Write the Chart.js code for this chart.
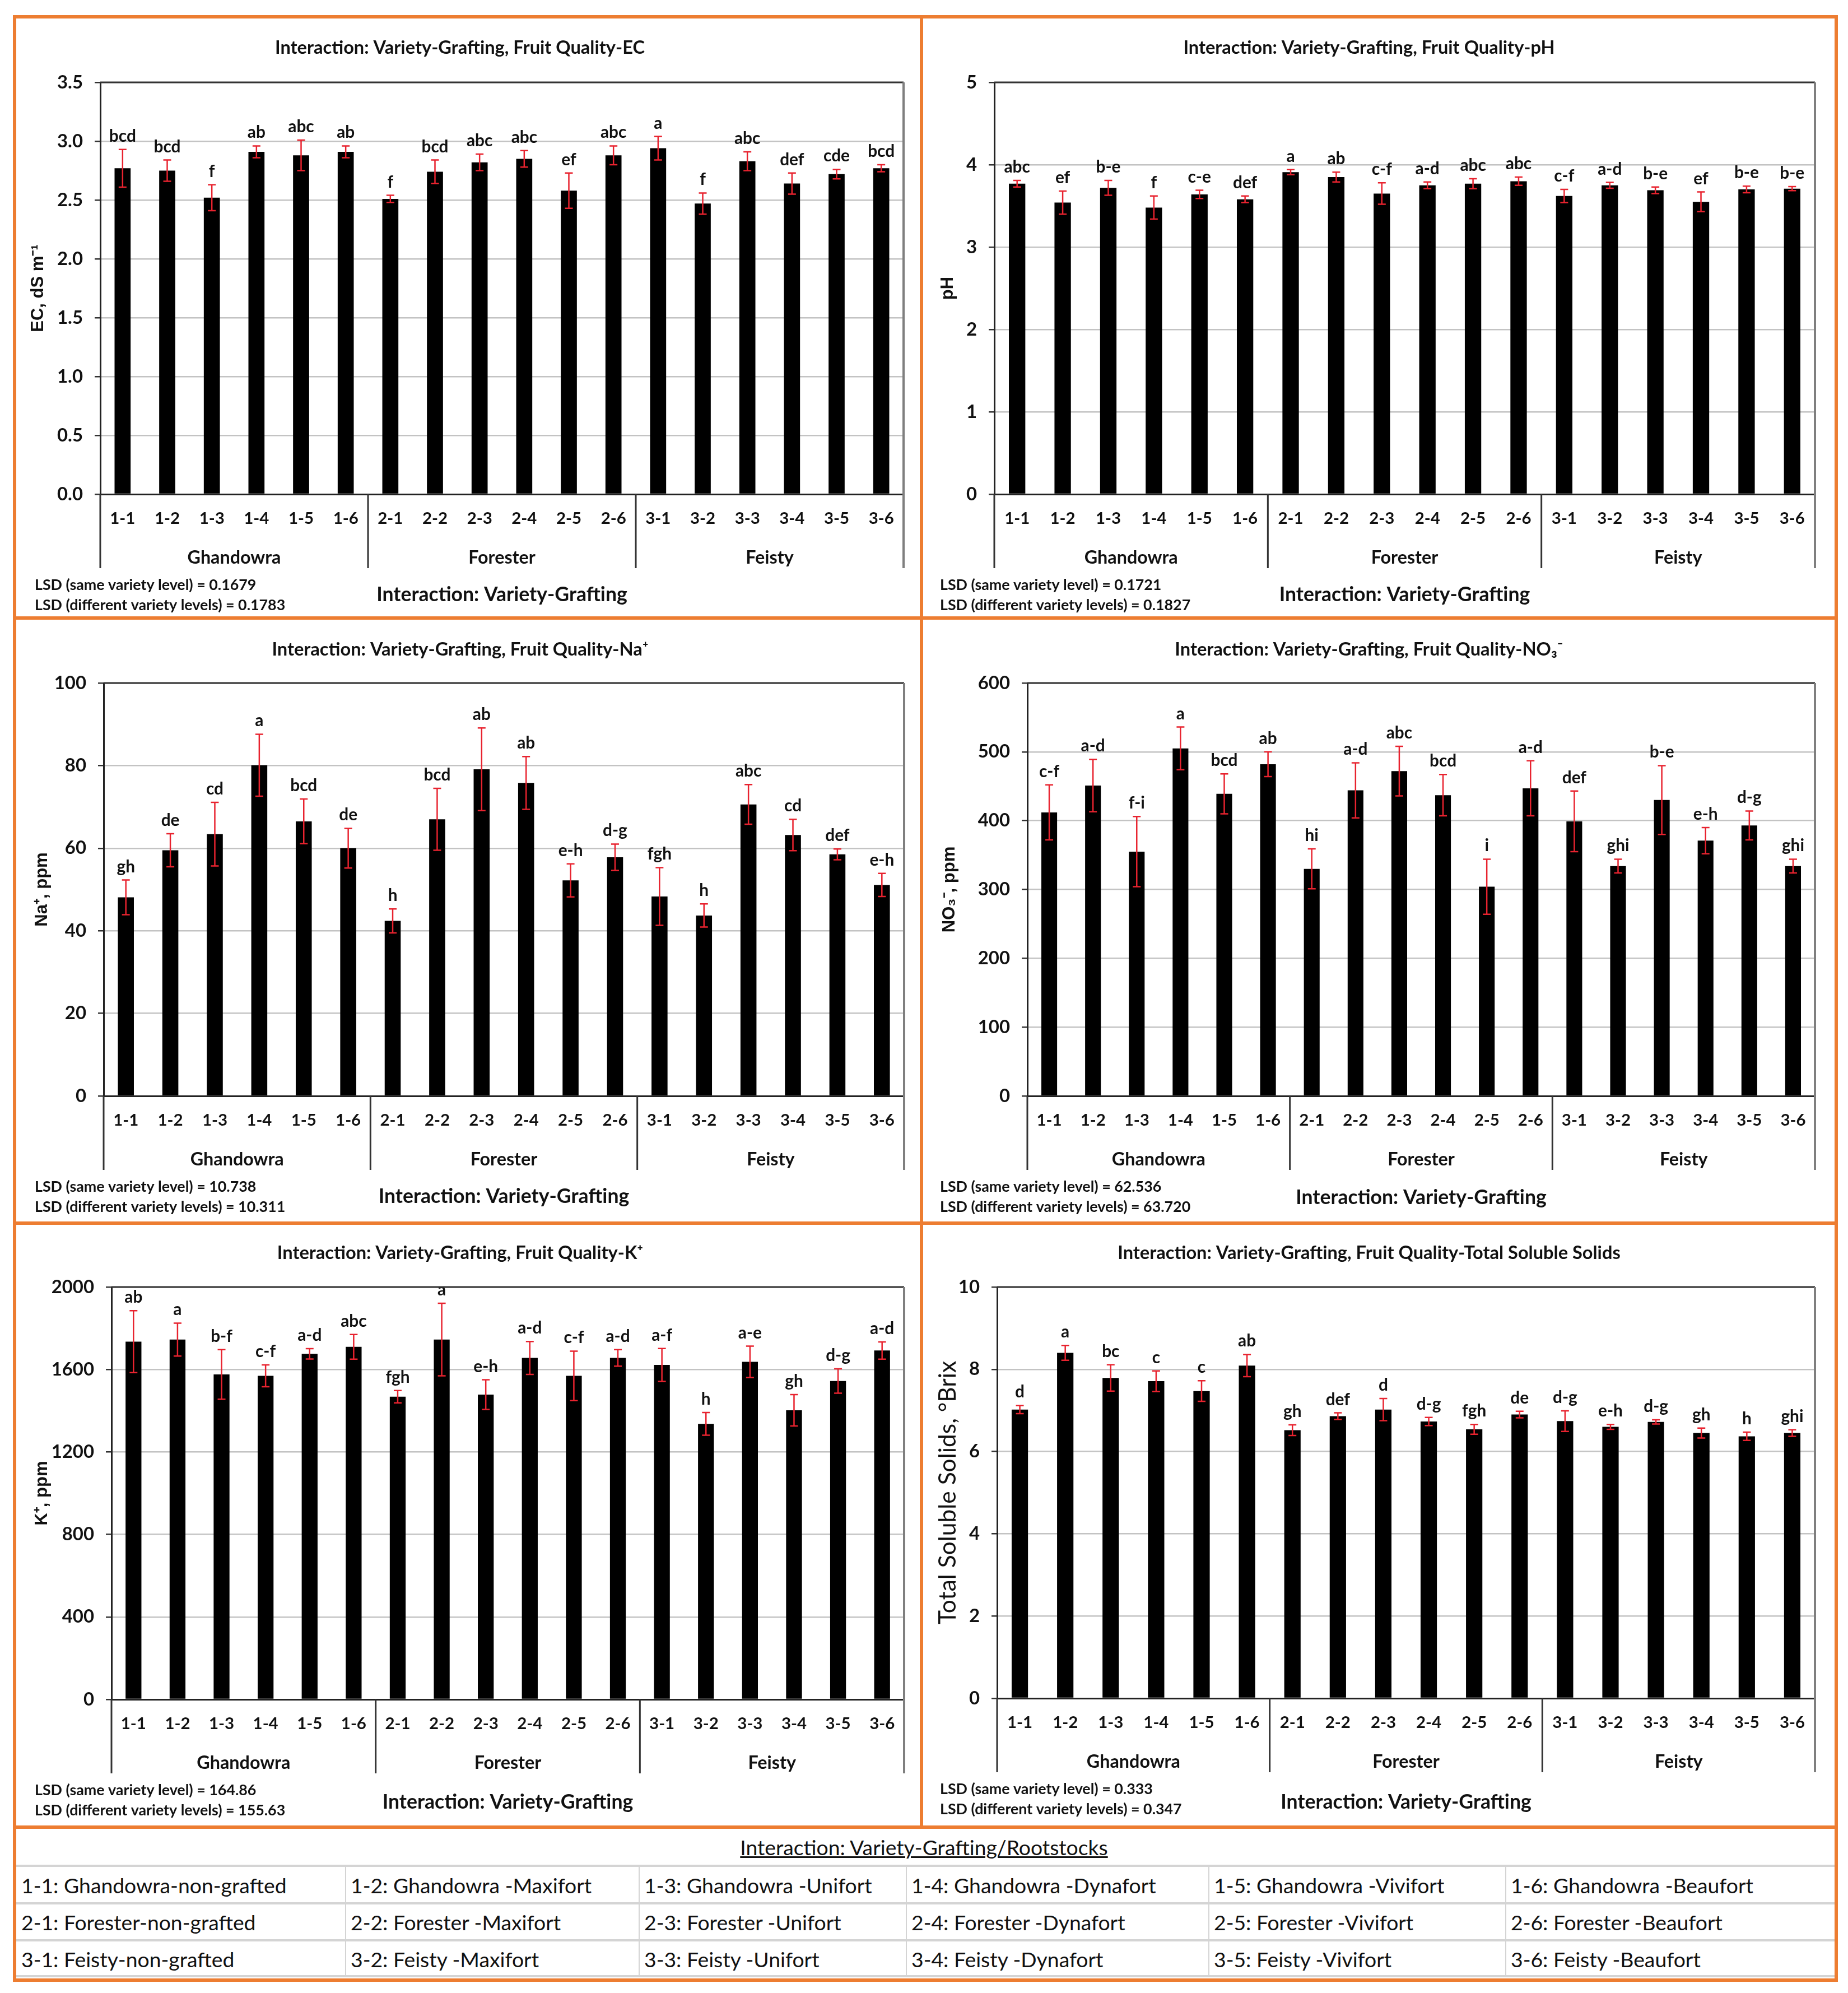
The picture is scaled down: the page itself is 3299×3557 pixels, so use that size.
<!DOCTYPE html>
<html>
<head>
<meta charset="utf-8">
<script src="https://cdn.jsdelivr.net/npm/chart.js@4.4.1/dist/chart.umd.min.js"></script>
<style>
html,body{margin:0;padding:0;background:#fff;}
body{width:3299px;height:3557px;position:relative;overflow:hidden;font-family:Lato,sans-serif;}
.cell{position:absolute;}
.bd{position:absolute;background:#ED7D31;}
.ln{position:absolute;background:#d4d4d4;}
.lt{position:absolute;white-space:nowrap;color:#111;font-family:Lato,sans-serif;}
</style>
</head>
<body>
<script>
// ---------------- DATA ----------------
const categories = ['1-1','1-2','1-3','1-4','1-5','1-6','2-1','2-2','2-3','2-4','2-5','2-6','3-1','3-2','3-3','3-4','3-5','3-6'];
const varieties = ['Ghandowra','Forester','Feisty'];
const rootstocks = ['-non-grafted',' -Maxifort',' -Unifort',' -Dynafort',' -Vivifort',' -Beaufort'];
const xAxisTitle = 'Interaction: Variety-Grafting';
const legendTitle = 'Interaction: Variety-Grafting/Rootstocks';

const ecValues  = [2.77,2.75,2.52,2.91,2.88,2.91, 2.51,2.74,2.82,2.85,2.58,2.88, 2.94,2.47,2.83,2.64,2.72,2.77];
const ecErrors  = [0.16,0.09,0.11,0.05,0.13,0.05, 0.03,0.10,0.07,0.07,0.15,0.08, 0.10,0.09,0.08,0.09,0.04,0.03];
const ecLetters = ['bcd','bcd','f','ab','abc','ab','f','bcd','abc','abc','ef','abc','a','f','abc','def','cde','bcd'];
const ecTicks   = [0,0.5,1,1.5,2,2.5,3,3.5];
const ecLSD     = ['LSD (same variety level) = 0.1679','LSD (different variety levels) = 0.1783'];

const phValues  = [3.77,3.54,3.72,3.48,3.64,3.58, 3.91,3.85,3.65,3.75,3.77,3.80, 3.62,3.75,3.69,3.55,3.70,3.71];
const phErrors  = [0.04,0.14,0.09,0.14,0.05,0.04, 0.03,0.06,0.13,0.04,0.06,0.05, 0.08,0.035,0.04,0.12,0.04,0.025];
const phLetters = ['abc','ef','b-e','f','c-e','def','a','ab','c-f','a-d','abc','abc','c-f','a-d','b-e','ef','b-e','b-e'];
const phTicks   = [0,1,2,3,4,5];
const phLSD     = ['LSD (same variety level) = 0.1721','LSD (different variety levels) = 0.1827'];

const naValues  = [48.1,59.5,63.4,80.1,66.5,60.0, 42.4,67.0,79.1,75.8,52.2,57.8, 48.3,43.7,70.6,63.2,58.5,51.1];
const naErrors  = [4.2,4.0,7.7,7.5,5.4,4.8, 2.9,7.5,10.0,6.4,4.0,3.2, 7.0,2.8,4.8,3.8,1.3,2.8];
const naLetters = ['gh','de','cd','a','bcd','de','h','bcd','ab','ab','e-h','d-g','fgh','h','abc','cd','def','e-h'];
const naTicks   = [0,20,40,60,80,100];
const naLSD     = ['LSD (same variety level) = 10.738','LSD (different variety levels) = 10.311'];

const no3Values  = [412,451,355,505,439,482, 330,444,472,437,304,447, 399,334,430,371,393,334];
const no3Errors  = [40,38,51,31,29,18, 29,40,36,30,40,40, 44,10,50,19,21,10];
const no3Letters = ['c-f','a-d','f-i','a','bcd','ab','hi','a-d','abc','bcd','i','a-d','def','ghi','b-e','e-h','d-g','ghi'];
const no3Ticks   = [0,100,200,300,400,500,600];
const no3LSD     = ['LSD (same variety level) = 62.536','LSD (different variety levels) = 63.720'];

const kValues  = [1735,1745,1576,1569,1676,1710, 1468,1745,1478,1656,1569,1656, 1622,1336,1637,1402,1544,1692];
const kErrors  = [150,80,120,53,25,60, 30,176,72,80,120,40, 80,55,76,76,59,42];
const kLetters = ['ab','a','b-f','c-f','a-d','abc','fgh','a','e-h','a-d','c-f','a-d','a-f','h','a-e','gh','d-g','a-d'];
const kTicks   = [0,400,800,1200,1600,2000];
const kLSD     = ['LSD (same variety level) = 164.86','LSD (different variety levels) = 155.63'];

const tssValues  = [7.02,8.40,7.79,7.71,7.47,8.09, 6.52,6.86,7.02,6.73,6.54,6.90, 6.74,6.60,6.72,6.45,6.37,6.45];
const tssErrors  = [0.10,0.18,0.32,0.25,0.25,0.27, 0.13,0.08,0.27,0.10,0.12,0.08, 0.25,0.06,0.05,0.12,0.10,0.08];
const tssLetters = ['d','a','bc','c','c','ab','gh','def','d','d-g','fgh','de','d-g','e-h','d-g','gh','h','ghi'];
const tssTicks   = [0,2,4,6,8,10];
const tssLSD     = ['LSD (same variety level) = 0.333','LSD (different variety levels) = 0.347'];

// ---------------- FONT FITTING ----------------
const mctx = document.createElement('canvas').getContext('2d');
function fitSize(text, weight, family, target){
  mctx.font = weight + ' 100px ' + family;
  return Math.round(1000 * target / mctx.measureText(text).width) / 10;
}
const F = 'Lato';
const titleFs = fitSize('Interaction: Variety-Grafting, Fruit Quality-EC','bold',F,660);
const axisFs  = fitSize(xAxisTitle,'bold',F,448);
const groupFs = fitSize('Ghandowra','bold',F,167);
const lsdFs   = fitSize(ecLSD[0],'bold',F,396);
const letterFs= fitSize('bcd','bold',F,48);
const tickFs  = fitSize('3.5','bold',F,46);
const catFs   = fitSize('1-1','bold',F,45);
const legendFs= fitSize('1-1: Ghandowra-non-grafted','normal',F,474);
const yTitleFs= 31;
const tssTitleFs = fitSize('Total Soluble Solids, °Brix','normal',F,470);

// ---------------- BORDERS ----------------
function box(cls,x,y,w,h){const d=document.createElement('div');d.className=cls;d.style.left=x+'px';d.style.top=y+'px';d.style.width=w+'px';d.style.height=h+'px';document.body.appendChild(d);return d;}
box('bd',23,27,3258,6);      // top
box('bd',23,3531,3258,6);    // bottom
box('bd',23,27,6,3510);      // left
box('bd',3275,27,6,3510);    // right
box('bd',1642,27,6,3236);    // middle vertical
box('bd',23,1100,3258,6);
box('bd',23,2180,3258,6);
box('bd',23,3258,3258,6);

// ---------------- CHARTS ----------------
function makeDecor(cfg, cell){
  return {
    id:'decor',
    afterDatasetsDraw(chart){
      const {ctx, scales:{y}} = chart;
      const meta = chart.getDatasetMeta(0);
      ctx.save();
      cfg.values.forEach((v,i)=>{
        const px = meta.data[i].x;
        const yt = y.getPixelForValue(v + cfg.errors[i]);
        const yb = y.getPixelForValue(v - cfg.errors[i]);
        ctx.strokeStyle = '#E8232F'; ctx.lineWidth = 2.5;
        ctx.beginPath();
        ctx.moveTo(px,yt); ctx.lineTo(px,yb);
        ctx.moveTo(px-7,yt); ctx.lineTo(px+7,yt);
        ctx.moveTo(px-7,yb); ctx.lineTo(px+7,yb);
        ctx.stroke();
        ctx.fillStyle = '#111';
        ctx.font = 'bold ' + letterFs + 'px ' + F;
        ctx.textAlign = 'center'; ctx.textBaseline = 'alphabetic';
        ctx.fillText(cfg.letters[i], px, yt - 14);
      });
      ctx.restore();
    },
    afterDraw(chart){
      const {ctx, chartArea:a, scales:{x}} = chart;
      const ext = a.bottom + 132;
      ctx.save();
      ctx.strokeStyle = '#333'; ctx.lineWidth = 3;
      ctx.beginPath(); ctx.moveTo(a.left, a.top); ctx.lineTo(a.right, a.top); ctx.stroke();
      ctx.strokeStyle = '#7f7f7f'; ctx.lineWidth = 4;
      ctx.beginPath(); ctx.moveTo(a.right, a.top); ctx.lineTo(a.right, ext); ctx.stroke();
      ctx.strokeStyle = '#333'; ctx.lineWidth = 3;
      ctx.beginPath(); ctx.moveTo(a.left, a.bottom); ctx.lineTo(a.left, ext);
      for (let g=1; g<varieties.length; g++){
        const sx = (x.getPixelForValue(g*6-1) + x.getPixelForValue(g*6))/2;
        ctx.moveTo(sx, a.bottom); ctx.lineTo(sx, ext);
      }
      ctx.stroke();
      ctx.fillStyle = '#111';
      ctx.font = 'bold ' + groupFs + 'px ' + F;
      ctx.textAlign = 'center'; ctx.textBaseline = 'middle';
      varieties.forEach((name,g)=>{
        const cx = (x.getPixelForValue(g*6) + x.getPixelForValue(g*6+5))/2;
        ctx.fillText(name, cx, a.bottom + 114);
      });
      ctx.font = 'bold ' + lsdFs + 'px ' + F;
      ctx.textAlign = 'left';
      ctx.fillText(cfg.lsd[0], cfg.lsdX - cell.x, a.bottom + 162);
      ctx.fillText(cfg.lsd[1], cfg.lsdX - cell.x, a.bottom + 198);
      ctx.restore();
    }
  };
}

function makeChart(cell, plot, cfg){
  const div = document.createElement('div');
  div.className = 'cell';
  div.style.left = cell.x+'px'; div.style.top = cell.y+'px';
  div.style.width = cell.w+'px'; div.style.height = cell.h+'px';
  const canvas = document.createElement('canvas');
  canvas.width = cell.w; canvas.height = cell.h;
  canvas.style.width = cell.w+'px'; canvas.style.height = cell.h+'px';
  div.appendChild(canvas); document.body.appendChild(div);

  const tLH = titleFs*1.2;
  const tPadTop = (cfg.titleY - cell.y) - tLH/2;
  const tPadBottom = (plot.t - cell.y) - tPadTop - tLH;
  const yFs = cfg.yTitleFs, yLH = yFs*1.2;
  const aLH = axisFs*1.2;
  const cLH = catFs*1.2;

  new Chart(canvas, {
    type:'bar',
    data:{labels:categories, datasets:[{data:cfg.values, backgroundColor:'#000', borderWidth:0, barPercentage:0.36, categoryPercentage:1}]},
    options:{
      responsive:false, animation:false, devicePixelRatio:1,
      layout:{padding:{left:0, top:0, bottom:0, right:(cell.x+cell.w)-plot.r}},
      plugins:{
        legend:{display:false}, tooltip:{enabled:false},
        title:{display:true, text:cfg.title, color:'#111',
          font:{family:F, size:titleFs, weight:'bold', lineHeight:1.2},
          padding:{top:tPadTop, bottom:tPadBottom}}
      },
      scales:{
        x:{
          grid:{display:false, drawTicks:false},
          border:{display:true, color:'#222', width:3},
          ticks:{autoSkip:false, maxRotation:0, color:'#111', padding:44 - cLH/2,
            font:{family:F, size:catFs, weight:'bold', lineHeight:1.2}},
          title:{display:true, text:xAxisTitle, color:'#111',
            font:{family:F, size:axisFs, weight:'bold', lineHeight:1.2},
            padding:{top:0, bottom:(cell.y+cell.h) - cfg.axisTitleY - aLH/2}},
          afterFit:(s)=>{ s.height = (cell.y+cell.h) - plot.b; }
        },
        y:{
          min:cfg.ticks[0], max:cfg.ticks[cfg.ticks.length-1],
          afterBuildTicks:(s)=>{ s.ticks = cfg.ticks.map(v=>({value:v})); },
          grid:{color:'#c3c3c3', lineWidth:2.5, tickLength:10, tickColor:'#333', tickWidth:2.5},
          border:{display:true, color:'#222', width:3},
          ticks:{color:'#111', padding:21, callback:(v)=>Number(v).toFixed(cfg.dec),
            font:{family:F, size:tickFs, weight:'bold', lineHeight:1.2}},
          title:{display:true, text:cfg.yTitle, color:'#111',
            font:{family:cfg.yFamily, size:yFs, weight:cfg.yWeight, lineHeight:1.2},
            padding:{top:(cfg.yTitleX - cell.x) - yLH/2, bottom:0}},
          afterFit:(s)=>{ s.width = plot.l - cell.x; }
        }
      }
    },
    plugins:[makeDecor(cfg, cell)]
  });
}

const LIB = "'Liberation Sans'";
makeChart({x:29,y:33,w:1613,h:1067},{l:179,r:1613,t:147,b:882},
  {title:'Interaction: Variety-Grafting, Fruit Quality-EC', values:ecValues, errors:ecErrors, letters:ecLetters, ticks:ecTicks, dec:1, lsd:ecLSD,
   yTitle:'EC, dS m⁻¹', yFamily:LIB, yWeight:'bold', yTitleFs:yTitleFs, titleY:85, yTitleX:68, lsdX:62, axisTitleY:1062});
makeChart({x:1648,y:33,w:1627,h:1067},{l:1775,r:3240,t:147,b:882},
  {title:'Interaction: Variety-Grafting, Fruit Quality-pH', values:phValues, errors:phErrors, letters:phLetters, ticks:phTicks, dec:0, lsd:phLSD,
   yTitle:'pH', yFamily:LIB, yWeight:'bold', yTitleFs:yTitleFs, titleY:85, yTitleX:1692, lsdX:1678, axisTitleY:1062});
makeChart({x:29,y:1106,w:1613,h:1074},{l:185,r:1614,t:1219,b:1956},
  {title:'Interaction: Variety-Grafting, Fruit Quality-Na⁺', values:naValues, errors:naErrors, letters:naLetters, ticks:naTicks, dec:0, lsd:naLSD,
   yTitle:'Na⁺, ppm', yFamily:LIB, yWeight:'bold', yTitleFs:yTitleFs, titleY:1159, yTitleX:75, lsdX:62, axisTitleY:2136});
makeChart({x:1648,y:1106,w:1627,h:1074},{l:1834,r:3240,t:1219,b:1956},
  {title:'Interaction: Variety-Grafting, Fruit Quality-NO₃⁻', values:no3Values, errors:no3Errors, letters:no3Letters, ticks:no3Ticks, dec:0, lsd:no3LSD,
   yTitle:'NO₃⁻, ppm', yFamily:LIB, yWeight:'bold', yTitleFs:yTitleFs, titleY:1159, yTitleX:1695, lsdX:1678, axisTitleY:2138});
makeChart({x:29,y:2186,w:1613,h:1072},{l:199,r:1614,t:2297,b:3033},
  {title:'Interaction: Variety-Grafting, Fruit Quality-K⁺', values:kValues, errors:kErrors, letters:kLetters, ticks:kTicks, dec:0, lsd:kLSD,
   yTitle:'K⁺, ppm', yFamily:LIB, yWeight:'bold', yTitleFs:yTitleFs, titleY:2236, yTitleX:75, lsdX:62, axisTitleY:3217});
makeChart({x:1648,y:2186,w:1627,h:1072},{l:1780,r:3240,t:2297,b:3031},
  {title:'Interaction: Variety-Grafting, Fruit Quality-Total Soluble Solids', values:tssValues, errors:tssErrors, letters:tssLetters, ticks:tssTicks, dec:0, lsd:tssLSD,
   yTitle:'Total Soluble Solids, °Brix', yFamily:F, yWeight:'normal', yTitleFs:tssTitleFs, titleY:2236, yTitleX:1692, lsdX:1678, axisTitleY:3217});

// ---------------- LEGEND TABLE ----------------
const colX = [29,617,1141,1618,2158,2688,3275];
const rowLinesY = [3330,3397,3463,3527];
const rowTextY = [3365,3431,3497];
rowLinesY.forEach(y=>box('ln',29,y-2,3246,4));
for (let c=1;c<colX.length-1;c++) box('ln',colX[c]-1,rowLinesY[0],2,rowLinesY[3]-rowLinesY[0]);
const lt = document.createElement('div');
lt.className='lt'; lt.textContent = legendTitle;
lt.style.fontSize = legendFs+'px'; lt.style.textDecoration='underline'; lt.style.textDecorationThickness='3px';
lt.style.left='0px'; lt.style.width='3299px'; lt.style.textAlign='center';
lt.style.top = (3297 - legendFs*0.6)+'px'; lt.style.lineHeight = (legendFs*1.2)+'px';
document.body.appendChild(lt);
varieties.forEach((v,r)=>{
  rootstocks.forEach((rs,c)=>{
    const d = document.createElement('div');
    d.className='lt';
    d.textContent = categories[r*6+c] + ': ' + v + rs;
    d.style.fontSize = legendFs+'px';
    d.style.lineHeight = (legendFs*1.2)+'px';
    d.style.left = (colX[c]+9)+'px';
    d.style.top = (rowTextY[r] - legendFs*0.6)+'px';
    document.body.appendChild(d);
  });
});
</script>
</body>
</html>
